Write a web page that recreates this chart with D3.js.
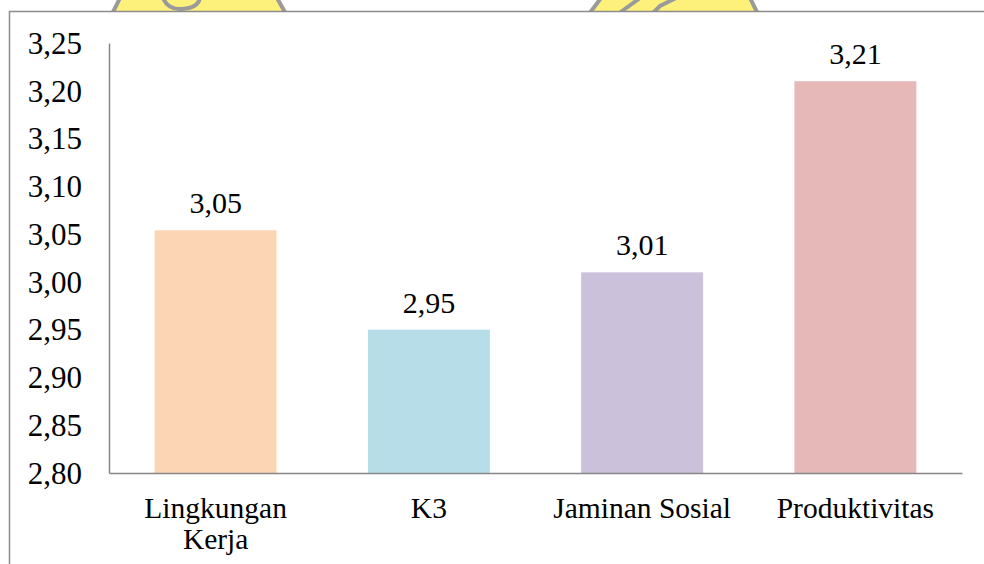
<!DOCTYPE html>
<html>
<head>
<meta charset="utf-8">
<script src="https://cdn.jsdelivr.net/npm/d3@7"></script>
<style>
  body { margin: 0; background: #fff; }
  svg { display: block; }
</style>
</head>
<body>
<script>
// data
var categories = ["Lingkungan Kerja", "K3", "Jaminan Sosial", "Produktivitas"];
var values = [3.054, 2.95, 3.01, 3.21];
var colors = ["#fcd5b5", "#b7dee8", "#ccc1da", "#e6b9b8"];
var tickValues = [2.80, 2.85, 2.90, 2.95, 3.00, 3.05, 3.10, 3.15, 3.20, 3.25];

var data = categories.map(function(c, i) { return {cat: c, val: values[i], col: colors[i]}; });

var FONT = "Liberation Serif";

function chart() {
  var W = 984, H = 564;
  var margin = {top: 43, left: 109, right: 22, bottom: 91};
  var width = W - margin.left - margin.right,
      height = H - margin.top - margin.bottom;

  // comma decimals, like the original
  var locale = d3.formatLocale({decimal: ",", thousands: ".", grouping: [3], currency: ["", ""]});
  var fmt = locale.format(".2f");

  var svg = d3.select("body").append("svg")
      .attr("width", W)
      .attr("height", H);

  // watermark remains peeking above the frame
  var wm = svg.append("g").attr("class", "watermark");
  wm.append("path")
      .attr("d", "M120,-2 L277,-2 L286,14 L112,14 Z")
      .attr("fill", "#fdf17c").attr("stroke", "#9a9a9a").attr("stroke-width", 4);
  wm.append("path")
      .attr("d", "M163,-2 Q168,10 182,9 Q198,8 200,-2")
      .attr("fill", "none").attr("stroke", "#9a9a9a").attr("stroke-width", 4);
  wm.append("path")
      .attr("d", "M601,-2 L750,-2 L758,14 L589,14 Z")
      .attr("fill", "#fdf17c").attr("stroke", "#9a9a9a").attr("stroke-width", 4);
  wm.append("path")
      .attr("d", "M618,14 L640,-2 M652,14 L660,6 L676,-2")
      .attr("fill", "none").attr("stroke", "#9a9a9a").attr("stroke-width", 4);

  // chart frame (runs off the right and bottom edges)
  svg.append("rect")
      .attr("x", 9.5).attr("y", 11.5)
      .attr("width", 1000).attr("height", 600)
      .attr("fill", "#fff")
      .attr("stroke", "#8c8c8c")
      .attr("stroke-width", 1.5);

  var g = svg.append("g")
      .attr("transform", "translate(" + margin.left + "," + margin.top + ")");

  var xScale = d3.scaleBand()
      .domain(categories)
      .range([0, width])
      .paddingInner(0.428)
      .paddingOuter(0.214);

  var yScale = d3.scaleLinear()
      .domain([2.80, 3.25])
      .range([height, 0]);

  // bars
  g.selectAll(".bar")
      .data(data)
    .enter().append("rect")
      .attr("class", "bar")
      .attr("x", function(d) { return xScale(d.cat); })
      .attr("width", xScale.bandwidth())
      .attr("y", function(d) { return yScale(d.val); })
      .attr("height", function(d) { return height - yScale(d.val); })
      .attr("fill", function(d) { return d.col; });

  // value labels
  g.selectAll(".val")
      .data(data)
    .enter().append("text")
      .attr("class", "val")
      .attr("x", function(d) { return xScale(d.cat) + xScale.bandwidth() / 2; })
      .attr("y", function(d) { return yScale(d.val) - 17; })
      .attr("text-anchor", "middle")
      .style("font-family", FONT)
      .style("font-size", "30px")
      .attr("fill", "#000")
      .text(function(d) { return fmt(d.val); });

  // y axis
  var yAxis = d3.axisLeft(yScale)
      .tickValues(tickValues)
      .tickSize(0)
      .tickPadding(27)
      .tickFormat(fmt);
  var ya = g.append("g").attr("class", "y axis").call(yAxis);
  ya.select(".domain").attr("stroke", "#868686").attr("stroke-width", 1.5);
  ya.selectAll("text")
      .attr("dy", "0.33em")
      .style("font-family", FONT)
      .style("font-size", "31px")
      .attr("fill", "#000");

  // x axis
  var xAxis = d3.axisBottom(xScale).tickSize(0).tickPadding(0);
  var xa = g.append("g")
      .attr("class", "x axis")
      .attr("transform", "translate(0," + height + ")")
      .call(xAxis);
  xa.select(".domain").attr("stroke", "#868686").attr("stroke-width", 1.5);
  xa.selectAll("text")
      .attr("y", 45)
      .attr("dy", 0)
      .style("font-family", FONT)
      .style("font-size", "29.5px")
      .attr("fill", "#000")
      .call(wrap, 190);
}

// break long category names onto two lines
function wrap(texts, maxW) {
  texts.each(function() {
    var text = d3.select(this),
        words = text.text().split(/\s+/),
        y = text.attr("y"),
        line = [],
        lineNo = 0,
        tspan = text.text(null).append("tspan").attr("x", 0).attr("y", y);
    words.forEach(function(w) {
      line.push(w);
      tspan.text(line.join(" "));
      if (tspan.node().getComputedTextLength() > maxW && line.length > 1) {
        line.pop();
        tspan.text(line.join(" "));
        line = [w];
        lineNo++;
        tspan = text.append("tspan").attr("x", 0).attr("y", +y + lineNo * 31).text(w);
      }
    });
  });
}

window.onload = chart;
</script>
</body>
</html>
